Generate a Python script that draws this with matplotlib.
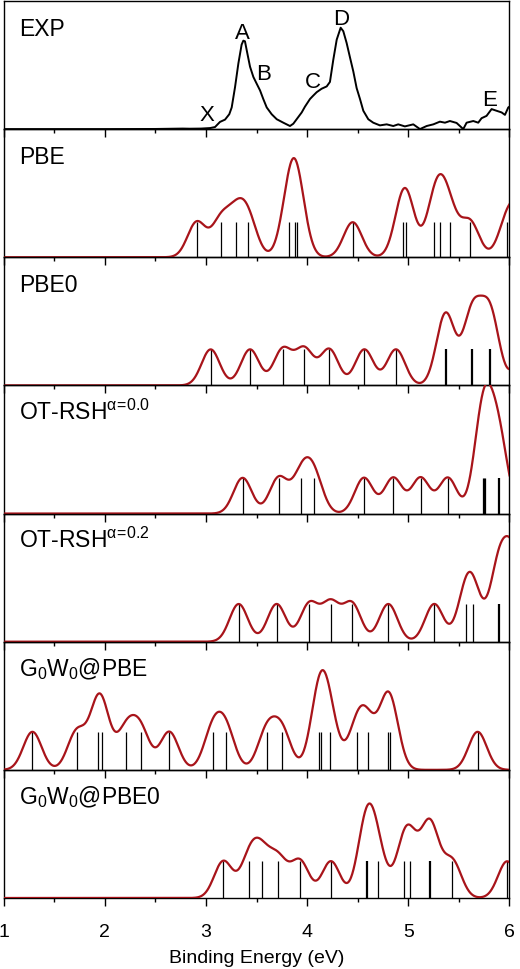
import numpy as np
import matplotlib
matplotlib.use('Agg')
from matplotlib import pyplot as plt
from matplotlib.ticker import MultipleLocator

plt.rcParams['font.family'] = ['Liberation Sans', 'DejaVu Sans']
plt.rcParams['mathtext.fontset'] = 'custom'
plt.rcParams['mathtext.rm'] = 'Liberation Sans'
plt.rcParams['mathtext.it'] = 'Liberation Sans'
plt.rcParams['mathtext.bf'] = 'Liberation Sans:bold'

exp_energy = [1.0, 2.0, 2.5, 2.77, 2.84, 2.95, 3.04, 3.089, 3.138, 3.188, 3.23, 3.254,
              3.287, 3.32, 3.352, 3.369, 3.385, 3.408, 3.435, 3.468, 3.501, 3.534,
              3.566, 3.6, 3.649, 3.699, 3.764, 3.83, 3.863, 3.896, 3.946, 3.978,
              4.028, 4.061, 4.094, 4.143, 4.193, 4.225, 4.258, 4.292, 4.331, 4.357,
              4.39, 4.423, 4.456, 4.489, 4.522, 4.555, 4.604, 4.653, 4.719, 4.786,
              4.851, 4.9, 4.966, 5.049, 5.115, 5.181, 5.247, 5.312, 5.362, 5.411,
              5.477, 5.543, 5.576, 5.642, 5.691, 5.724, 5.773, 5.823, 5.872, 5.922,
              5.955, 5.988, 6.0]
exp_intensity = [0.0, 0.0, 0.001, 0.004, 0.003, 0.004, 0.008, 0.016, 0.056, 0.074, 0.116, 0.169,
                 0.328, 0.513, 0.659, 0.69, 0.685, 0.593, 0.487, 0.407, 0.354, 0.302,
                 0.235, 0.169, 0.116, 0.077, 0.05, 0.024, 0.042, 0.077, 0.13, 0.175,
                 0.235, 0.262, 0.288, 0.315, 0.333, 0.368, 0.54, 0.698, 0.791, 0.764,
                 0.672, 0.56, 0.45, 0.32, 0.235, 0.143, 0.077, 0.05, 0.029, 0.037,
                 0.024, 0.037, 0.021, 0.037, 0.0, 0.024, 0.037, 0.058, 0.05, 0.063,
                 0.048, 0.0, 0.05, 0.063, 0.05, 0.085, 0.103, 0.156, 0.143, 0.13,
                 0.111, 0.169, 0.175]
exp_peaks = ['X', 'A', 'B', 'C', 'D', 'E']
exp_peak_x = [3.007, 3.36, 3.566, 4.054, 4.341, 5.80]
exp_peak_y = [0.071, 0.712, 0.389, 0.328, 0.817, 0.19]

# calculated levels (eV) and their degeneracy
pbe_e = [2.908, 3.145, 3.30, 3.418, 3.824, 3.88, 3.896, 4.45, 4.95, 4.98, 5.254, 5.313,
         5.41, 5.61, 5.98, 6.10]
pbe_w = [1] * 16
pbe0_e = [3.046, 3.435, 3.758, 3.972, 4.219, 4.565, 4.878, 5.369, 5.632, 5.807, 6.15]
pbe0_w = [1, 1, 1, 1, 1, 1, 1, 2, 2, 2, 1]
ot00_e = [3.362, 3.718, 3.942, 4.067, 4.561, 4.851, 5.121, 5.391, 5.734, 5.745, 5.757, 5.895]
ot00_w = [1, 1, 1, 1, 1, 1, 1, 1, 1, 1, 1, 2]
ot02_e = [3.323, 3.698, 4.021, 4.232, 4.443, 4.802, 5.256, 5.569, 5.642, 5.898, 6.05]
ot02_w = [1, 1, 1, 1, 1, 1, 1, 1, 1, 2, 2]
g0pbe_e = [1.284, 1.722, 1.930, 1.969, 2.209, 2.355, 2.637, 3.066, 3.198, 3.600, 3.751,
           4.115, 4.135, 4.225, 4.489, 4.598, 4.795, 4.818, 5.685]
g0pbe_w = [1] * 19
g0pbe0_e = [3.171, 3.428, 3.550, 3.715, 3.929, 4.235, 4.588, 4.697, 4.957, 5.016, 5.213,
            5.434, 5.977]
g0pbe0_w = [1, 1, 1, 1, 1, 1, 2, 1, 1, 1, 2, 1, 1]

labels = ['EXP', 'PBE', 'PBE0', r'OT-RSH$^{α\!=\!0.0}$', r'OT-RSH$^{α\!=\!0.2}$',
          'G$_0$W$_0$@PBE', 'G$_0$W$_0$@PBE0']
calc = [(pbe_e, pbe_w), (pbe0_e, pbe0_w), (ot00_e, ot00_w), (ot02_e, ot02_w),
        (g0pbe_e, g0pbe_w), (g0pbe0_e, g0pbe0_w)]
ymax = [3.66, 3.56, 3.59, 3.40, 3.37, 3.49]
sigma = 0.09
red = '#a8141a'

fig, axes = plt.subplots(7, 1, figsize=(5.2, 9.7), dpi=100, sharex=True,
                         gridspec_kw={'hspace': 0})
fig.subplots_adjust(left=0.0071, right=0.9798, top=0.998, bottom=0.0732)

x = np.linspace(1, 6, 1201)
for i, ax in enumerate(axes):
    ax.set_facecolor('none')
    ax.set_xlim(1, 6)
    ax.set_yticks([])
    ax.xaxis.set_major_locator(MultipleLocator(1))
    ax.xaxis.set_minor_locator(MultipleLocator(0.5))
    ax.tick_params(axis='x', which='major', direction='out', length=5.8, width=1.0,
                   top=False, labelsize=14, pad=12)
    ax.tick_params(axis='x', which='minor', direction='out', length=2.9, width=1.0,
                   top=False)
    for s in ax.spines.values():
        s.set_linewidth(1.0)
    ax.text(0.031, 0.737, labels[i], transform=ax.transAxes, fontsize=16.5,
            ha='left', va='baseline')
    if i == 0:
        ax.plot(exp_energy, exp_intensity, color='black', lw=1.4)
        ax.set_ylim(0, 1)
        for lab, px, py in zip(exp_peaks, exp_peak_x, exp_peak_y):
            ax.text(px, py, lab, fontsize=16, ha='center', va='baseline')
        continue
    e, w = calc[i - 1]
    e = np.array(e)
    w = np.array(w, dtype=float)
    y = (w[:, None] * np.exp(-(x[None, :] - e[:, None]) ** 2 / (2 * sigma ** 2))).sum(axis=0)
    ax.vlines(e, 0, 1, colors='black', linewidths=np.where(w > 1, 1.6, 0.9), zorder=2)
    ax.plot(x, y, color=red, lw=1.6, zorder=3)
    ax.set_ylim(0, ymax[i - 1])

axes[-1].set_xlabel('Binding Energy (eV)', fontsize=14, labelpad=7)
fig.savefig('out.png', dpi=100)
